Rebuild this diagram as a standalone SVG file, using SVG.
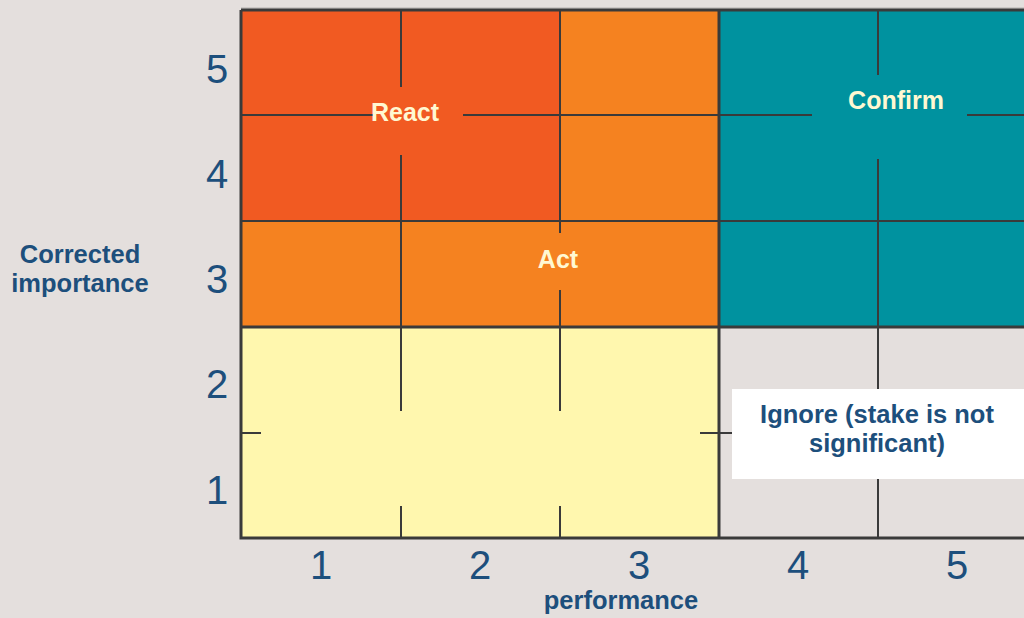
<svg xmlns="http://www.w3.org/2000/svg" width="1024" height="618" viewBox="0 0 1024 618">
<style>
.num{font-family:"Liberation Sans",Arial,sans-serif;font-size:40px;fill:#1d4f7c;text-anchor:middle}
.axis{font-family:"Liberation Sans",Arial,sans-serif;font-size:25.5px;font-weight:bold;fill:#1d4f7c;text-anchor:middle}
.lbl{font-family:"Liberation Sans",Arial,sans-serif;font-size:25px;font-weight:bold;fill:#fff8d2;text-anchor:middle}
.ign{font-family:"Liberation Sans",Arial,sans-serif;font-size:25.5px;font-weight:bold;fill:#1d4f7c;text-anchor:middle}
.grid{stroke:#3a3a3a;stroke-width:2;fill:none}
.border{stroke:#3a3a3a;stroke-width:3;fill:none}
</style>
<rect x="0" y="0" width="1024" height="618" fill="#e4dfdd"/>
<line x1="241" y1="8" x2="1024" y2="8" stroke="#c4c0be" stroke-width="1.5"/>
<g id="react">
<rect x="241" y="10" width="319" height="211" fill="#f15a22"/>
</g>
<g id="act">
<polygon points="560,10 719,10 719,327 241,327 241,221 560,221" fill="#f58220"/>
</g>
<g id="confirm">
<rect x="719" y="10" width="310" height="317" fill="#00929f"/>
</g>
<g id="yellow">
<rect x="241" y="327" width="478" height="211" fill="#fff7ae"/>
</g>
<g id="ignore-zone">
<rect x="719" y="327" width="310" height="211" fill="#e4dfdd"/>
</g>
<g id="connectors">
<path class="grid" d="M401,10V538 M560,10V538 M719,10V538 M878,10V538 M241,115H1024 M241,221H1024 M241,327H1024 M241,433H1024"/>
</g>
<rect x="373" y="87" width="90" height="68" fill="#f15a22"/>
<rect x="812" y="75" width="155" height="84" fill="#00929f"/>
<rect x="505" y="233" width="110" height="57" fill="#f58220"/>
<rect x="261" y="411" width="439" height="95" fill="#fff7ae"/>
<g id="borders">
<path class="border" d="M241,10H1024 M241,10V538H1024 M241,327H1024 M719,10V538"/>
</g>
<g id="ignore">
<rect x="732" y="389" width="300" height="90" fill="#ffffff"/>
<text class="ign" x="877" y="423">Ignore (stake is not</text>
<text class="ign" x="877" y="452">significant)</text>
</g>
<text class="lbl" x="405" y="121">React</text>
<text class="lbl" x="896" y="109">Confirm</text>
<text class="lbl" x="558" y="268">Act</text>
<g id="y-axis">
<text class="num" x="217" y="83">5</text>
<text class="num" x="217" y="188">4</text>
<text class="num" x="217" y="293">3</text>
<text class="num" x="217" y="398">2</text>
<text class="num" x="217" y="504">1</text>
<text class="axis" x="80" y="263">Corrected</text>
<text class="axis" x="80" y="292">importance</text>
</g>
<g id="x-axis">
<text class="num" x="321" y="579">1</text>
<text class="num" x="480" y="579">2</text>
<text class="num" x="639" y="579">3</text>
<text class="num" x="798" y="579">4</text>
<text class="num" x="957" y="579">5</text>
<text class="axis" x="621" y="609">performance</text>
</g>
</svg>
